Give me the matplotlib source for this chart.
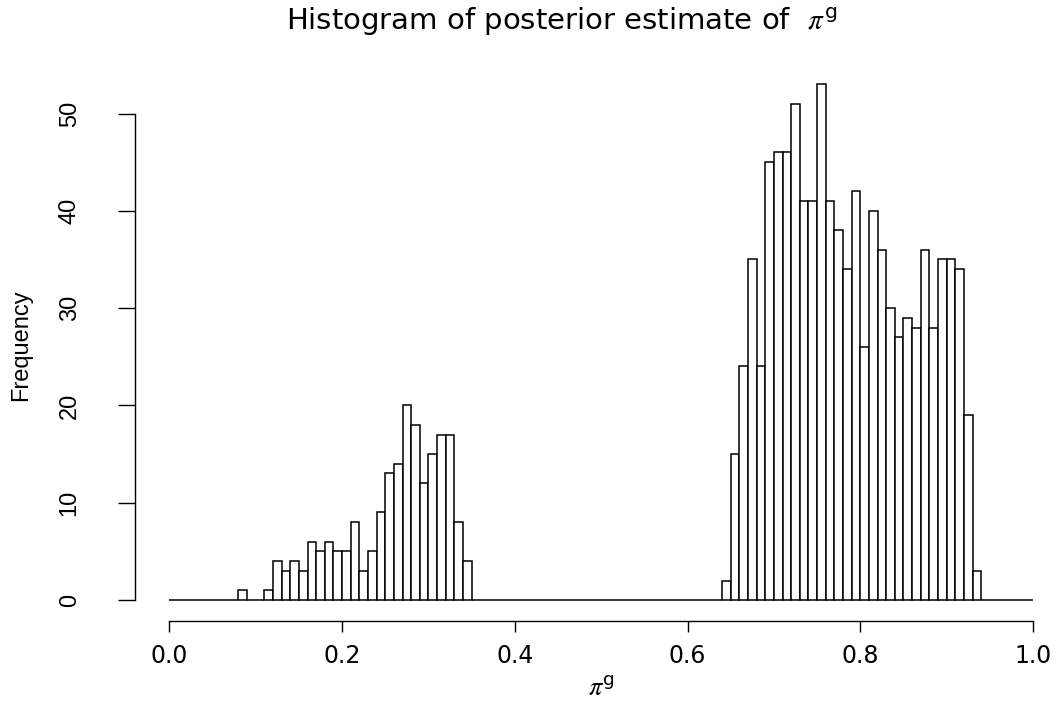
import numpy as np
import matplotlib
matplotlib.use("Agg")
import matplotlib.pyplot as plt

plt.rcParams["mathtext.fontset"] = "stix"

# Histogram breaks: 100 bins of width 0.01 on [0, 1]
bin_width = 0.01
breaks = np.round(np.arange(0, 1 + bin_width / 2, bin_width), 2)

# Bin counts, ten bins per row (0.00-0.09, 0.10-0.19, ...)
counts = [
    0, 0, 0, 0, 0, 0, 0, 0, 1, 0,
    0, 1, 4, 3, 4, 3, 6, 5, 6, 5,
    5, 8, 3, 5, 9, 13, 14, 20, 18, 12,
    15, 17, 17, 8, 4, 0, 0, 0, 0, 0,
    0, 0, 0, 0, 0, 0, 0, 0, 0, 0,
    0, 0, 0, 0, 0, 0, 0, 0, 0, 0,
    0, 0, 0, 0, 2, 15, 24, 35, 24, 45,
    46, 46, 51, 41, 41, 53, 41, 38, 34, 42,
    26, 40, 36, 30, 27, 29, 28, 36, 28, 35,
    35, 34, 19, 3, 0, 0, 0, 0, 0, 0,
]

x_ticks = [0.0, 0.2, 0.4, 0.6, 0.8, 1.0]
x_tick_labels = ["0.0", "0.2", "0.4", "0.6", "0.8", "1.0"]
y_ticks = [0, 10, 20, 30, 40, 50]
y_tick_labels = ["0", "10", "20", "30", "40", "50"]

title_text = r"Histogram of posterior estimate of  $\pi^{\mathregular{g}}$"
x_label = r"$\pi^{\mathregular{g}}$"
y_label = "Frequency"

W, H = 1057, 710
fig = plt.figure(figsize=(W / 100, H / 100), dpi=100)
fig.patch.set_facecolor("white")

# plot region in pixels (left, right, top, bottom)
left_px, right_px, top_px, bottom_px = 134.8, 1067.5, 63.7, 620.6
ax = fig.add_axes([left_px / W, (H - bottom_px) / H,
                   (right_px - left_px) / W, (bottom_px - top_px) / H])
ax.set_facecolor("white")

ax.bar(breaks[:-1], counts, width=bin_width, align="edge",
       facecolor="white", edgecolor="black", linewidth=1.1)

ymax = max(counts)
ax.set_xlim(breaks[0] - 0.04 * (breaks[-1] - breaks[0]),
            breaks[-1] + 0.04 * (breaks[-1] - breaks[0]))
ax.set_ylim(-0.04 * ymax, ymax * 1.04)

for side in ("top", "right"):
    ax.spines[side].set_visible(False)
ax.spines["bottom"].set_bounds(x_ticks[0], x_ticks[-1])
ax.spines["left"].set_bounds(y_ticks[0], y_ticks[-1])
for side in ("bottom", "left"):
    ax.spines[side].set_linewidth(1.0)
    ax.spines[side].set_color("black")

ax.set_xticks(x_ticks)
ax.set_xticklabels(x_tick_labels, family="DejaVu Sans", fontsize=17)
ax.set_yticks(y_ticks)
ax.set_yticklabels(y_tick_labels, family=["Liberation Sans Narrow", "Liberation Sans"],
                   fontsize=17, rotation=90, va="center")
ax.tick_params(axis="x", length=8, width=1.0, pad=9)
ax.tick_params(axis="y", length=12, width=1.0, pad=27)

fig.text(562 / W, 1 - 21 / H, title_text, ha="center", va="center",
         family="DejaVu Sans", fontsize=21)
fig.text(601 / W, 1 - 689 / H, x_label, ha="center", va="center",
         family="DejaVu Sans", fontsize=19)
fig.text(21 / W, 1 - 345 / H, y_label, ha="center", va="center", rotation=90,
         family=["Liberation Sans Narrow", "Liberation Sans"], fontsize=17)

fig.savefig("out.png", dpi=100, facecolor="white")
